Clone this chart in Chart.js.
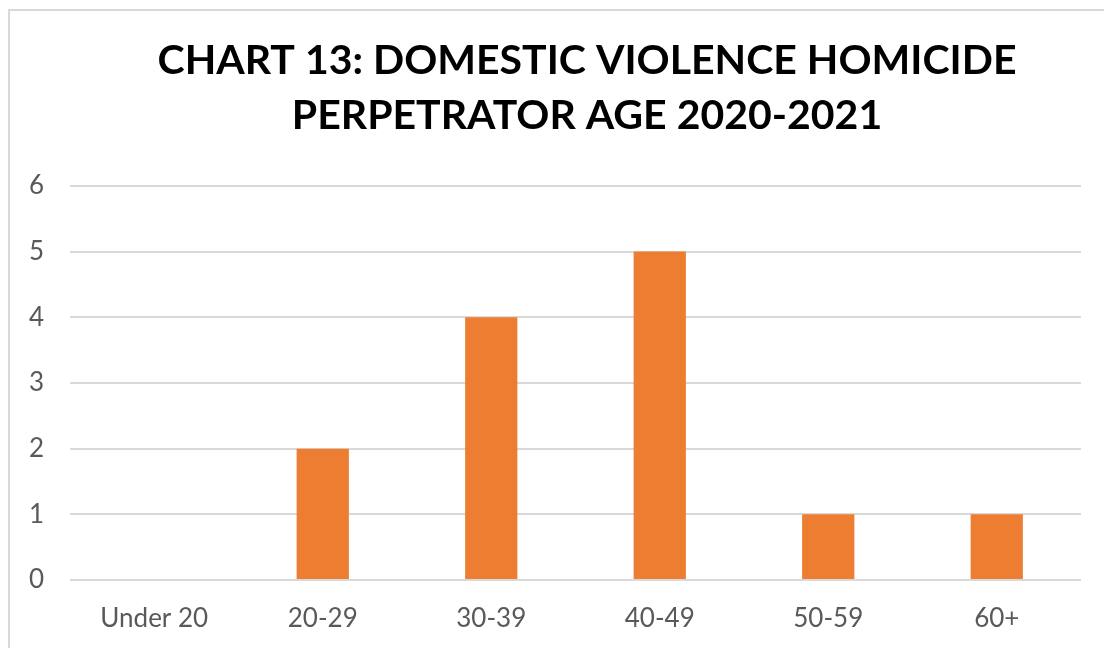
<!doctype html>
<html lang="en">
  <head>
    <meta charset="utf-8">
    <title>Chart 13: Domestic Violence Homicide Perpetrator Age 2020-2021</title>
    <script src="https://cdn.jsdelivr.net/npm/chart.js@4/dist/chart.umd.min.js"></script>
    <style>
      html, body {
        margin: 0;
        padding: 0;
        background: #ffffff;
        overflow: hidden;
      }

      .frame {
        position: absolute;
        left: 8px;
        top: 9px;
        width: 1200px;
        height: 800px;
        border: 2px solid #d9d9d9;
        box-sizing: border-box;
      }

      .wrap {
        position: absolute;
        left: 0;
        top: 0;
        width: 1104px;
        height: 648px;
      }
    </style>
  </head>
  <body>
    <div class="frame"></div>
    <div class="wrap">
      <canvas id="chart"></canvas>
    </div>

    <script>
      // age groups and number of perpetrators
      const ageGroups = ["Under 20", "20-29", "30-39", "40-49", "50-59", "60+"];
      const perpetrators = [0, 2, 4, 5, 1, 1];
      const yTicks = [0, 1, 2, 3, 4, 5, 6];

      const titleLines = ["CHART 13: DOMESTIC VIOLENCE HOMICIDE", "PERPETRATOR AGE 2020-2021"];

      // the title in the original is centred on the whole frame, not the plot
      const shiftTitle = {
        id: "shiftTitle",
        afterLayout(chart) {
          if (chart.titleBlock) chart.titleBlock.left = 93;
        }
      };

      new Chart(document.getElementById("chart").getContext("2d"), {
        type: "bar",
        data: {
          labels: ageGroups,
          datasets: [{
            label: "Perpetrators",
            data: perpetrators,
            backgroundColor: "#ed7d31",
            borderWidth: 0,
            categoryPercentage: 1,
            barPercentage: 0.31
          }]
        },
        options: {
          responsive: true,
          maintainAspectRatio: false,
          animation: false,
          layout: { padding: { top: 33, right: 23, left: 0, bottom: 0 } },
          plugins: {
            legend: { display: false },
            tooltip: { enabled: false },
            title: {
              display: true,
              text: titleLines,
              color: "#000000",
              font: { family: "Lato", size: 41, weight: "bold", lineHeight: 1.34 },
              padding: { top: 0, bottom: 43 }
            }
          },
          scales: {
            x: {
              grid: { display: false, drawTicks: false },
              border: { display: false },
              ticks: {
                color: "#595959",
                font: { family: "Lato", size: 26 },
                padding: 23
              },
              afterFit: s => { s.height = 68; }
            },
            y: {
              min: 0,
              max: 6,
              afterBuildTicks: s => { s.ticks = yTicks.map(v => ({ value: v })); },
              grid: { color: "#d9d9d9", lineWidth: 2, drawTicks: false },
              border: { display: false },
              ticks: {
                color: "#595959",
                font: { family: "Lato", size: 26 },
                padding: 26
              },
              afterFit: s => { s.width = 70; }
            }
          }
        },
        plugins: [shiftTitle]
      });
    </script>
  </body>
</html>
